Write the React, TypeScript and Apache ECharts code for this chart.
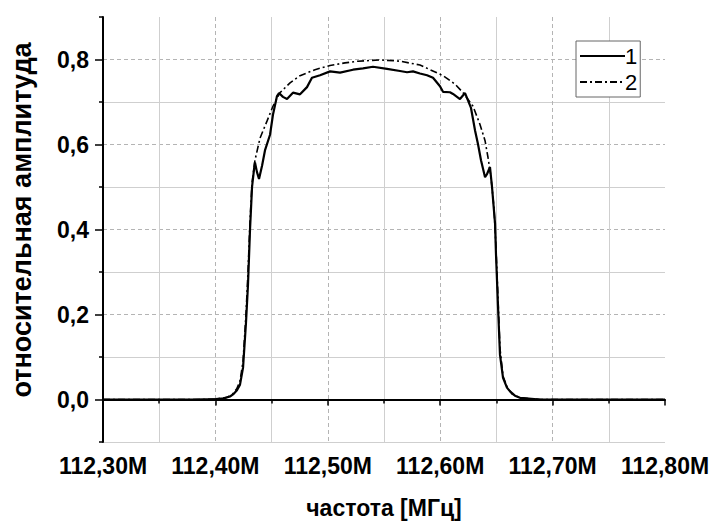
import React, { useEffect, useRef } from "react";
import * as echarts from "echarts";

// Measured response (curve 1), frequency in MHz
const freq1 = [
  112.3, 112.38, 112.4, 112.408, 112.413, 112.4157, 112.4192, 112.4219, 112.4246, 112.4272,
  112.429, 112.4308, 112.4326, 112.4343, 112.4352, 112.437, 112.4388, 112.4415, 112.4441, 112.4486,
  112.4512, 112.4548, 112.4566, 112.4601, 112.4637, 112.469, 112.4753, 112.4815, 112.4859, 112.4931,
  112.502, 112.5109, 112.5224, 112.5313, 112.5402, 112.5527, 112.5642, 112.5705, 112.5758, 112.582,
  112.5883, 112.5936, 112.5998, 112.6025, 112.6087, 112.6114, 112.6176, 112.6221, 112.6274, 112.631,
  112.6336, 112.6363, 112.6399, 112.6416, 112.6443, 112.6461, 112.6488, 112.6496, 112.6514, 112.6532,
  112.6559, 112.6594, 112.6621, 112.6665, 112.671, 112.6888, 112.8,
];
const amp1 = [
  0, 0, 0.001, 0.003, 0.007, 0.012, 0.022, 0.035, 0.075, 0.18,
  0.27, 0.4, 0.5, 0.54, 0.558, 0.535, 0.519, 0.55, 0.586, 0.623,
  0.67, 0.714, 0.721, 0.712, 0.707, 0.722, 0.718, 0.735, 0.757, 0.763,
  0.772, 0.769, 0.776, 0.779, 0.783, 0.778, 0.773, 0.77, 0.772, 0.767,
  0.763, 0.757, 0.737, 0.724, 0.723, 0.719, 0.707, 0.721, 0.686, 0.633,
  0.601, 0.563, 0.523, 0.53, 0.547, 0.5, 0.414, 0.344, 0.221, 0.105,
  0.051, 0.028, 0.019, 0.009, 0.004, 0, 0,
];

// Calculated response (curve 2)
const freq2 = [
  112.3, 112.39, 112.4, 112.41, 112.415, 112.419, 112.422, 112.4246, 112.4272, 112.429,
  112.4308, 112.4326, 112.4352, 112.4397, 112.4459, 112.4512, 112.4575, 112.4664, 112.4753, 112.4886,
  112.502, 112.5153, 112.5269, 112.5464, 112.5642, 112.582, 112.6025, 112.6132, 112.6203, 112.6292,
  112.6354, 112.6399, 112.6425, 112.6452, 112.6479, 112.6496, 112.6514, 112.6532, 112.6559, 112.6594,
  112.6639, 112.671, 112.6888, 112.8,
];
const amp2 = [
  0, 0, 0.001, 0.005, 0.012, 0.025, 0.045, 0.09, 0.2, 0.3,
  0.42, 0.51, 0.563, 0.615, 0.655, 0.69, 0.722, 0.745, 0.762, 0.776,
  0.786, 0.792, 0.796, 0.799, 0.796, 0.787, 0.762, 0.742, 0.722, 0.69,
  0.647, 0.609, 0.57, 0.523, 0.45, 0.36, 0.24, 0.12, 0.055, 0.03,
  0.013, 0.004, 0, 0,
];

const seriesNames = ["1", "2"];
const xTitle = "частота [МГц]";
const yTitle = "относительная амплитуда";

const FONT = "'Liberation Sans', Arial, sans-serif";
const DASHED_GRID = { color: "#b4b4b4", width: 1, type: [4, 3] as number[] };
const SOLID_GRID = { color: "#cfcfcf", width: 1, type: "solid" as const };

const fmtComma = (v: number, digits: number) => v.toFixed(digits).replace(".", ",");

export default function App() {
  const ref = useRef<HTMLDivElement>(null);

  useEffect(() => {
    if (!ref.current) return;
    const chart = echarts.init(ref.current, null, { renderer: "svg" });

    const zip = (xs: number[], ys: number[]) => xs.map((x, i) => [x, ys[i]]);

    chart.setOption({
      animation: false,
      backgroundColor: "#ffffff",
      grid: { left: 103, right: 48, top: 17, bottom: 76, containLabel: false },
      legend: {
        data: seriesNames,
        orient: "vertical",
        left: 576,
        top: 41,
        itemWidth: 45,
        itemHeight: 14,
        itemGap: 4,
        padding: [4, 3, 4, 3],
        borderColor: "#666",
        borderWidth: 1,
        backgroundColor: "#fff",
        itemStyle: { color: "transparent", borderColor: "transparent", borderWidth: 0 },
        textStyle: { fontFamily: FONT, fontSize: 22, color: "#000", padding: [0, 0, 0, -5] },
      },
      xAxis: {
        type: "value",
        min: 112.3,
        max: 112.8,
        interval: 0.1,
        name: xTitle,
        nameLocation: "middle",
        nameGap: 54,
        nameTextStyle: { fontFamily: FONT, fontSize: 23, fontWeight: "bold", color: "#000" },
        axisLine: { show: true, lineStyle: { color: "#000", width: 2 } },
        axisTick: { show: true, length: 6, lineStyle: { color: "#000", width: 1.5 } },
        minorTick: { show: true, splitNumber: 2, length: 4, lineStyle: { color: "#000", width: 1.5 } },
        axisLabel: {
          fontFamily: FONT,
          fontSize: 23,
          fontWeight: "bold",
          color: "#000",
          margin: 12,
          formatter: (v: number) => fmtComma(v, 2) + "M",
        },
        splitLine: { show: true, showMaxLine: false, lineStyle: DASHED_GRID },
        minorSplitLine: { show: true, lineStyle: SOLID_GRID },
      },
      yAxis: [
        {
          // ticks at -0.1, 0.1 … 0.9 with minor ticks on the labelled values
          type: "value",
          position: "left",
          min: -0.1,
          max: 0.9,
          interval: 0.2,
          axisLine: { show: true, lineStyle: { color: "#000", width: 2 } },
          axisTick: { show: true, length: 4, lineStyle: { color: "#000", width: 1.5 } },
          minorTick: { show: true, splitNumber: 2, length: 8, lineStyle: { color: "#000", width: 1.5 } },
          axisLabel: { show: false },
          splitLine: { show: true, showMaxLine: false, lineStyle: SOLID_GRID },
          minorSplitLine: { show: true, lineStyle: DASHED_GRID },
        },
        {
          type: "value",
          position: "left",
          min: -0.1,
          max: 0.9,
          interval: 0.1,
          axisLine: { show: false },
          axisTick: { show: false },
          splitLine: { show: false },
          axisLabel: {
            fontFamily: FONT,
            fontSize: 23,
            fontWeight: "bold",
            color: "#000",
            margin: 14,
            formatter: (v: number) => {
              const k = Math.round(v * 10);
              return k >= 0 && k <= 8 && k % 2 === 0 ? fmtComma(k / 10, 1) : "";
            },
          },
        },
      ],
      graphic: [
        {
          type: "text",
          x: 22,
          y: 220,
          rotation: Math.PI / 2,
          style: {
            text: yTitle,
            font: `bold 27px ${FONT}`,
            fill: "#000",
            align: "center",
            verticalAlign: "middle",
          },
        },
      ],
      series: [
        {
          name: seriesNames[1],
          type: "line",
          data: zip(freq2, amp2),
          symbol: "none",
          lineStyle: { color: "#000", width: 1.6, type: [7, 3, 2, 3] },
          itemStyle: { color: "#000" },
          z: 2,
        },
        {
          name: seriesNames[0],
          type: "line",
          data: zip(freq1, amp1),
          symbol: "none",
          lineStyle: { color: "#000", width: 2.2, type: "solid" },
          itemStyle: { color: "#000" },
          z: 3,
        },
      ],
    });

    return () => chart.dispose();
  }, []);

  return (
    <div
      ref={ref}
      style={{ position: "absolute", left: 0, top: 0, width: 713, height: 524 }}
    />
  );
}
